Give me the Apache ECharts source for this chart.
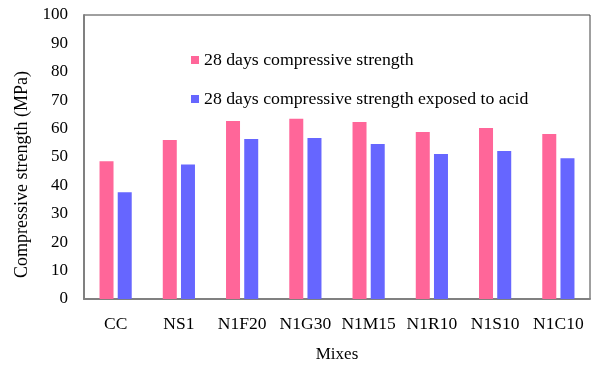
<!DOCTYPE html>
<html>
<head>
<meta charset="utf-8">
<script src="https://cdn.jsdelivr.net/npm/echarts@6/dist/echarts.min.js"></script>
<style>
  html, body { margin: 0; padding: 0; background: #fff; }
  #chart { width: 592px; height: 365px; }
</style>
</head>
<body>
<div id="chart"></div>
<script>
// Mix designs along the x axis
const mixes = ['CC', 'NS1', 'N1F20', 'N1G30', 'N1M15', 'N1R10', 'N1S10', 'N1C10'];
// 28-day compressive strength (MPa)
const strength28 = [48.5, 56.0, 62.7, 63.5, 62.3, 58.8, 60.2, 58.1];
// 28-day compressive strength after acid exposure (MPa)
const strengthAcid = [37.6, 47.4, 56.3, 56.7, 54.6, 51.1, 52.1, 49.6];
// Y axis range
const yMin = 0, yMax = 100, yStep = 10;

const serif = '"Liberation Serif", "DejaVu Serif", serif';
const axisGray = '#808080';

const chart = echarts.init(document.getElementById('chart'), null, { renderer: 'canvas' });
chart.setOption({
  animation: false,
  backgroundColor: '#fff',
  grid: {
    left: 84, right: 2, top: 15, bottom: 66,
    outerBoundsMode: 'none',
    show: true, borderColor: '#404040', borderWidth: 1
  },
  legend: {
    orient: 'vertical',
    left: 186, top: 46,
    itemWidth: 8, itemHeight: 8, itemGap: 21,
    icon: 'rect',
    textStyle: { fontFamily: serif, fontSize: 17.75, color: '#000' },
    data: ['28 days compressive strength', '28 days compressive strength exposed to acid']
  },
  xAxis: {
    type: 'category',
    data: mixes,
    name: 'Mixes',
    nameLocation: 'middle',
    nameGap: 47,
    nameTextStyle: { fontFamily: serif, fontSize: 17, color: '#000' },
    axisLine: { lineStyle: { color: axisGray, width: 2 } },
    axisTick: { show: false },
    axisLabel: { fontFamily: serif, fontSize: 17.5, color: '#000', margin: 16, interval: 0 }
  },
  yAxis: {
    type: 'value',
    min: yMin, max: yMax, interval: yStep,
    name: 'Compressive strength (MPa)',
    nameLocation: 'middle',
    nameGap: 52,
    nameTextStyle: { fontFamily: serif, fontSize: 18, color: '#000', padding: [0, 35, 0, 0] },
    axisLine: { show: true, lineStyle: { color: axisGray, width: 2 } },
    axisTick: { show: false },
    splitLine: { show: false },
    axisLabel: { fontFamily: serif, fontSize: 17, color: '#000', margin: 16 }
  },
  series: [
    {
      name: '28 days compressive strength',
      type: 'bar',
      data: strength28,
      barWidth: 14,
      barGap: '30%',
      itemStyle: { color: '#FF6699' }
    },
    {
      name: '28 days compressive strength exposed to acid',
      type: 'bar',
      data: strengthAcid,
      barWidth: 14,
      itemStyle: { color: '#6666FF' }
    }
  ]
});
</script>
</body>
</html>
